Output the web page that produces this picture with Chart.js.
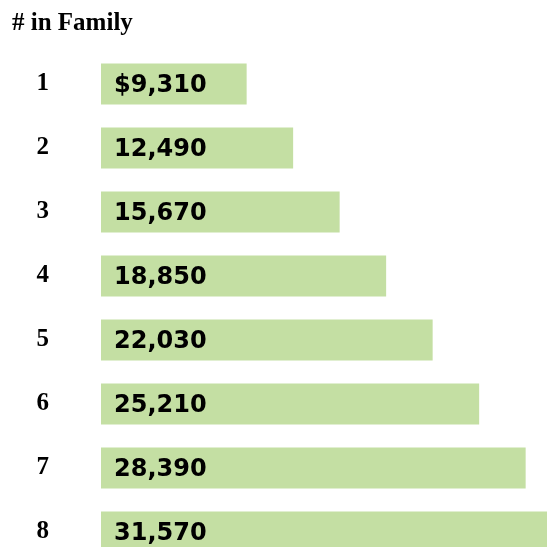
<!DOCTYPE html>
<html>
<head>
<meta charset="utf-8">
<script src="https://cdn.jsdelivr.net/npm/chart.js@4"></script>
<style>
  html, body { margin: 0; padding: 0; overflow: hidden; background: #fff; }
  #wrap { width: 547px; height: 547px; overflow: hidden; }
  canvas { display: block; }
</style>
</head>
<body>
<div id="wrap"><canvas id="myChart" width="547" height="564"></canvas></div>
<script>
'use strict';

// family size and income per row
let familySizes = ['1', '2', '3', '4', '5', '6', '7', '8'];
let incomeValues = [9310, 12490, 15670, 18850, 22030, 25210, 28390, 31570];
let incomeLabels = ['$9,310', '12,490', '15,670', '18,850', '22,030', '25,210', '28,390', '31,570'];
let axisMin = -650;
let axisMax = 29850;

let serif = '"Liberation Serif", "DejaVu Serif", serif';

// writes the value inside each bar
const barText = {
  id: 'barText',
  afterDatasetsDraw(chart) {
    let ctx = chart.ctx;
    let meta = chart.getDatasetMeta(0);
    ctx.save();
    ctx.font = 'bold 24px "DejaVu Sans", sans-serif';
    ctx.fillStyle = '#000';
    ctx.textBaseline = 'middle';
    ctx.textAlign = 'left';
    meta.data.forEach(function (bar, i) {
      ctx.fillText(incomeLabels[i], chart.chartArea.left + 13, bar.y + 2);
    });
    ctx.restore();
  },
};

const config = {
  type: 'bar',
  data: {
    labels: familySizes,
    datasets: [
      {
        data: incomeValues,
        base: axisMin,
        backgroundColor: '#c4dfa3',
        borderWidth: 0,
        categoryPercentage: 1,
        barPercentage: 0.64,
      },
    ],
  },
  options: {
    indexAxis: 'y',
    responsive: false,
    animation: false,
    devicePixelRatio: 1,
    layout: { padding: { left: 12, right: 0, top: 0, bottom: 0 } },
    plugins: {
      legend: { display: false },
      tooltip: { enabled: false },
      title: {
        display: true,
        text: '# in Family',
        align: 'start',
        color: '#000',
        font: { family: serif, size: 25, weight: 'bold' },
        padding: { top: 9, bottom: 13 },
      },
    },
    scales: {
      x: {
        display: false,
        min: axisMin,
        max: axisMax,
      },
      y: {
        grid: { display: false },
        border: { display: false },
        afterFit: function (scale) {
          // tick padding should not push the plot area down
          scale.width = 89;
          scale.paddingTop = 0;
          scale.paddingBottom = 0;
        },
        ticks: {
          color: '#000',
          padding: 44,
          font: { family: serif, size: 25, weight: 'bold' },
        },
      },
    },
  },
  plugins: [barText],
};

let chartCanvas = document.getElementById('myChart').getContext('2d');
const myChart = new Chart(chartCanvas, config);
</script>
</body>
</html>
